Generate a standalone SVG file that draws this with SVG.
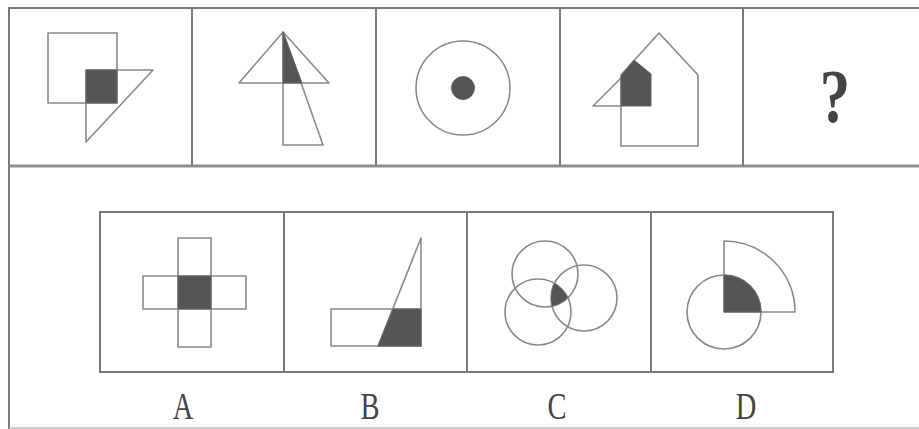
<svg xmlns="http://www.w3.org/2000/svg" width="919" height="429" viewBox="0 0 919 429">
<style>
.frame{fill:none;stroke:#7a7a7a;stroke-width:2}
.ln{fill:none;stroke:#8a8a8a;stroke-width:1.6;stroke-linejoin:round}
.dk{fill:#555;stroke:#666;stroke-width:1}
.lbl{font-family:"Liberation Serif","DejaVu Serif",serif;fill:#444}
</style>
<defs>
<clipPath id="cT"><circle cx="545" cy="274" r="33"/></clipPath>
<clipPath id="cL"><circle cx="538" cy="312" r="33"/></clipPath>
<clipPath id="cR"><circle cx="584" cy="298" r="33"/></clipPath>
</defs>
<rect width="919" height="429" fill="#fff"/>
<g id="frames">
<line class="frame" x1="9" y1="8" x2="919" y2="8"/>
<line x1="9" y1="166" x2="919" y2="166" stroke="#8f8f8f" stroke-width="3"/>
<line class="frame" x1="9" y1="7" x2="9" y2="429"/>
<line class="frame" x1="192" y1="8" x2="192" y2="166"/>
<line class="frame" x1="376" y1="8" x2="376" y2="166"/>
<line class="frame" x1="560" y1="8" x2="560" y2="166"/>
<line class="frame" x1="743" y1="8" x2="743" y2="166"/>
<line x1="9" y1="428" x2="919" y2="428" stroke="#bbb" stroke-width="1.5"/>
<rect class="frame" x="100" y="212" width="733" height="160"/>
<line class="frame" x1="284" y1="212" x2="284" y2="372"/>
<line class="frame" x1="467" y1="212" x2="467" y2="372"/>
<line class="frame" x1="651" y1="212" x2="651" y2="372"/>
</g>
<g id="p1">
<rect class="ln" x="48" y="33" width="69" height="70"/>
<polygon class="ln" points="86,70 153,70 86,142"/>
<rect class="dk" x="86" y="70" width="31" height="33"/>
</g>
<g id="p2">
<polygon class="ln" points="239,83 283,32 329,83"/>
<polygon class="ln" points="283,32 283,145 323,145"/>
<polygon class="dk" points="283,32 283,83 302,83"/>
</g>
<g id="p3">
<circle class="ln" cx="463" cy="88" r="47"/>
<circle class="dk" cx="463" cy="88" r="11.5"/>
</g>
<g id="p4">
<polygon class="ln" points="659,33 698,75 698,146 621,146 621,75"/>
<polyline class="ln" points="622,106 593,106 622,77"/>
<polygon class="dk" points="621,76 634,60 651,74 651,106 621,106"/>
</g>
<g id="p5">
<text class="lbl" transform="translate(835,122) scale(0.8,1)" font-size="76" font-weight="bold" text-anchor="middle" fill="#555">?</text>
</g>
<g id="optA">
<rect class="ln" x="178" y="238" width="33" height="109"/>
<rect class="ln" x="143" y="276" width="103" height="33"/>
<rect class="dk" x="178" y="276" width="33" height="33"/>
</g>
<g id="optB">
<rect class="ln" x="331" y="309" width="90" height="37"/>
<polygon class="ln" points="421,238 421,346 378,346"/>
<polygon class="dk" points="393,309 421,309 421,346 378,346"/>
</g>
<g id="optC">
<circle class="ln" cx="545" cy="274" r="33"/>
<circle class="ln" cx="538" cy="312" r="33"/>
<circle class="ln" cx="584" cy="298" r="33"/>
<g clip-path="url(#cT)"><g clip-path="url(#cL)"><rect x="500" y="240" width="120" height="110" fill="#555" clip-path="url(#cR)"/></g></g>
</g>
<g id="optD">
<circle class="ln" cx="724" cy="312" r="37"/>
<path class="ln" d="M724,312 V241 A71,71 0 0 1 795,312 Z"/>
<path class="dk" d="M724,312 V275 A37,37 0 0 1 761,312 Z"/>
</g>
<g id="labels">
<text class="lbl" transform="translate(183,419) scale(0.75,1)" font-size="38" text-anchor="middle">A</text>
<text class="lbl" transform="translate(370,419) scale(0.75,1)" font-size="38" text-anchor="middle">B</text>
<text class="lbl" transform="translate(557,419) scale(0.75,1)" font-size="38" text-anchor="middle">C</text>
<text class="lbl" transform="translate(746,419) scale(0.75,1)" font-size="38" text-anchor="middle">D</text>
</g>
</svg>
